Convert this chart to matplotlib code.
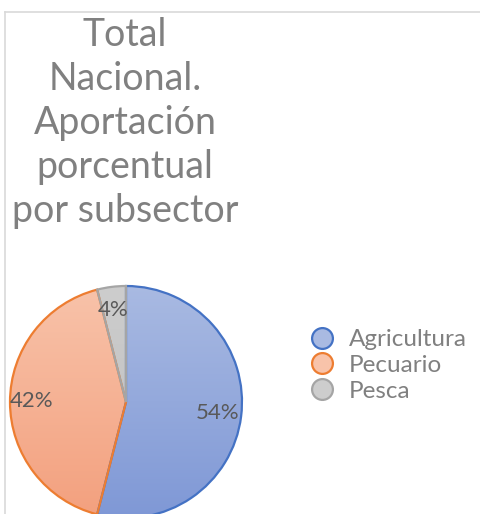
import matplotlib

matplotlib.use("Agg")
import matplotlib.pyplot as plt
import numpy as np
from matplotlib.lines import Line2D

# --- Datos ---
SUBSECTORES = ["Agricultura", "Pecuario", "Pesca"]
APORTACION = [54, 42, 4]
ETIQUETAS = ["54%", "42%", "4%"]
TITULO = "Total\nNacional.\nAportación\nporcentual\npor subsector"

# --- Estilo ---
BORDES = ["#4472C4", "#ED7D31", "#A5A5A5"]
GRAD_ARRIBA = ["#A9BAE2", "#F8C3AA", "#CDCDCD"]
GRAD_ABAJO = ["#7F98D6", "#F3A07E", "#BDBDBD"]
GRIS_TEXTO = "#808080"
GRIS_ETIQUETA = "#595959"
FUENTE = "Lato"

W, H = 481, 514
fig = plt.figure(figsize=(W / 100, H / 100), dpi=100)

# marco del área del gráfico (solo se ven borde superior e izquierdo)
fig.add_artist(Line2D([5 / W, 5 / W], [0, 1 - 12 / H], color="#D9D9D9", lw=1.2))
fig.add_artist(Line2D([5 / W, 1], [1 - 12 / H, 1 - 12 / H], color="#D9D9D9", lw=1.2))

# titulo
fig.text(125 / W, 1 - 17 / H, TITULO, ha="center", va="top", color=GRIS_TEXTO,
         fontsize=27, family=FUENTE, linespacing=1.28)

# pastel
cx, cy, r = 126, 402, 116
lim = 1.03
ax = fig.add_axes([(cx - r * lim) / W, (H - cy - r * lim) / H, 2 * r * lim / W, 2 * r * lim / H])
cunas, _ = ax.pie(APORTACION, startangle=90, counterclock=False,
                  wedgeprops=dict(linewidth=1.6))
ax.set_aspect("equal")
ax.axis("off")

for cuna, arriba, abajo, borde in zip(cunas, GRAD_ARRIBA, GRAD_ABAJO, BORDES):
    c1 = np.array(matplotlib.colors.to_rgb(arriba))
    c2 = np.array(matplotlib.colors.to_rgb(abajo))
    t = np.linspace(0, 1, 256)[:, None, None]
    grad = np.repeat(c1 * (1 - t) + c2 * t, 2, axis=1)
    img = ax.imshow(grad, extent=(-1, 1, -1, 1), origin="upper", zorder=0.5,
                    aspect="auto", interpolation="bilinear")
    img.set_clip_path(cuna)
    cuna.set_facecolor("none")
    cuna.set_edgecolor(borde)
    cuna.set_zorder(1)
ax.set_xlim(-lim, lim)
ax.set_ylim(-lim, lim)

# etiquetas de porcentaje
pos_etiquetas = [(218, 413), (32, 401), (113, 310)]
for texto, (px, py) in zip(ETIQUETAS, pos_etiquetas):
    fig.text(px / W, 1 - py / H, texto, ha="center", va="center", color=GRIS_ETIQUETA,
             fontsize=16, family=FUENTE)

# leyenda
manejadores = [
    Line2D([], [], marker="o", linestyle="", markersize=15, markerfacecolor=f,
           markeredgecolor=b, markeredgewidth=1.6)
    for f, b in zip(GRAD_ARRIBA, BORDES)
]
fig.legend(manejadores, SUBSECTORES, loc="upper left",
           bbox_to_anchor=(310 / W, 1 - 329 / H), frameon=False,
           prop={"family": FUENTE, "size": 17.5}, labelcolor=GRIS_TEXTO,
           handlelength=1.0, handletextpad=0.6, labelspacing=0.2, borderpad=0,
           borderaxespad=0)

fig.savefig("out.png", dpi=100)
